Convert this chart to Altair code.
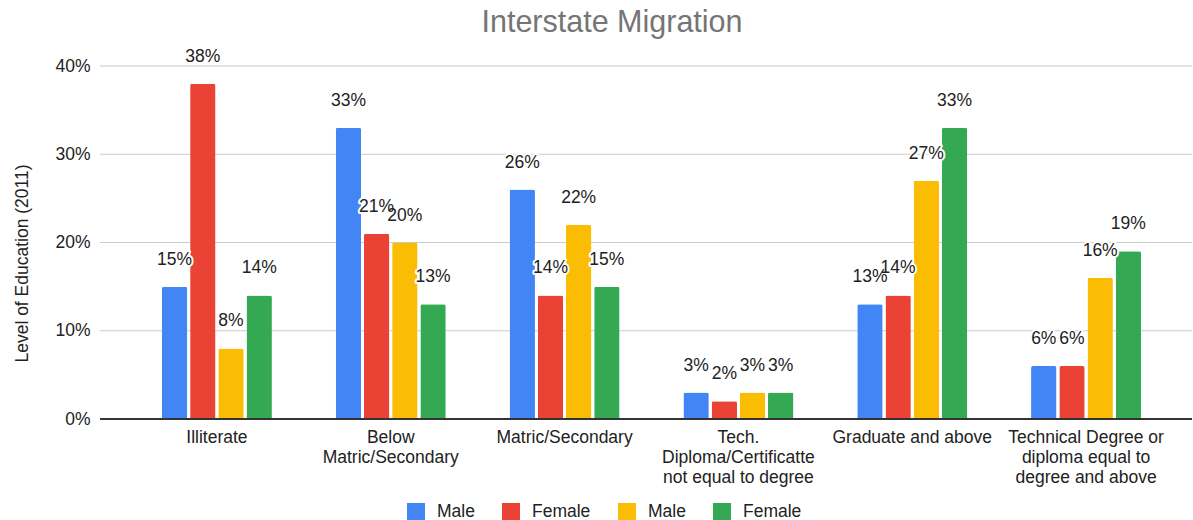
import altair as alt
import pandas as pd

# Education levels ("|" marks a line break in the axis label)
categories = [
    "Illiterate",
    "Below|Matric/Secondary",
    "Matric/Secondary",
    "Tech.|Diploma/Certificatte|not equal to degree",
    "Graduate and above",
    "Technical Degree or|diploma equal to|degree and above",
]

# Four series; the legend repeats Male/Female, so each gets its own key
series_keys = ["male_a", "female_a", "male_b", "female_b"]
series_names = ["Male", "Female", "Male", "Female"]
series_colors = ["#4285F4", "#EA4335", "#FBBC04", "#34A853"]

# Percent of migrants per education level
male_a = [15, 33, 26, 3, 13, 6]
female_a = [38, 21, 14, 2, 14, 6]
male_b = [8, 20, 22, 3, 27, 16]
female_b = [14, 13, 15, 3, 33, 19]

series_values = [male_a, female_a, male_b, female_b]

# y-axis ticks (fractions)
y_ticks = [0, 0.1, 0.2, 0.3, 0.4]

rows = []
for key, values in zip(series_keys, series_values):
    for cat, v in zip(categories, values):
        rows.append({"category": cat, "series": key, "value": v / 100, "label": f"{v}%"})
df = pd.DataFrame(rows)
grid_df = pd.DataFrame({"tick": y_ticks})

FONT = "Liberation Sans"
FS = 17.5
INK = "#222222"
PLOT_W = 1092
PLOT_H = 353
name_map = "{" + ", ".join(f"'{k}': '{n}'" for k, n in zip(series_keys, series_names)) + "}"

y_scale = alt.Scale(domain=[0, 0.4], nice=False)

x_enc = alt.X(
    "category:N",
    sort=categories,
    scale=alt.Scale(range=[30, 1073], paddingInner=0, paddingOuter=0),
    axis=alt.Axis(
        title=None,
        labelAngle=0,
        labelFontSize=FS,
        labelColor=INK,
        labelFont=FONT,
        labelPadding=9,
        labelLineHeight=20,
        labelExpr="split(datum.label, '|')",
        ticks=False,
        domain=False,
        grid=False,
    ),
)
xoff_enc = alt.XOffset(
    "series:N",
    sort=series_keys,
    scale=alt.Scale(range=[30.5, 143.3], paddingInner=0.1, paddingOuter=0.05),
)
y_enc = alt.Y(
    "value:Q",
    scale=y_scale,
    axis=alt.Axis(
        title="Level of Education (2011)",
        titleFont=FONT,
        titleFontSize=FS,
        titleFontWeight="normal",
        titleColor=INK,
        titleAngle=-90,
        titleX=-78,
        titleY=197,
        titleAlign="center",
        titleBaseline="middle",
        values=y_ticks,
        format=".0%",
        labelFontSize=FS,
        labelColor=INK,
        labelFont=FONT,
        labelPadding=10,
        ticks=False,
        domain=False,
        grid=False,
    ),
)

# Horizontal gridlines spanning the full plot width
grid = alt.Chart(grid_df).transform_filter("datum.tick > 0").mark_rule(
    color="#cccccc", strokeWidth=1
).encode(y=alt.Y("tick:Q", scale=y_scale), x=alt.value(0), x2=alt.value(PLOT_W))

baseline = alt.Chart(grid_df).transform_filter("datum.tick == 0").mark_rule(
    color="#333333", strokeWidth=2
).encode(y=alt.Y("tick:Q", scale=y_scale), x=alt.value(0), x2=alt.value(PLOT_W))

base = alt.Chart(df).encode(x=x_enc, xOffset=xoff_enc, y=y_enc)

bars = base.mark_bar(cornerRadiusTopLeft=2, cornerRadiusTopRight=2).encode(
    color=alt.Color(
        "series:N",
        sort=series_keys,
        scale=alt.Scale(domain=series_keys, range=series_colors),
        legend=alt.Legend(
            title=None,
            orient="none",
            direction="horizontal",
            legendX=307,
            legendY=437,
            symbolType="square",
            symbolSize=324,
            symbolStrokeWidth=0,
            labelFontSize=FS,
            labelFont=FONT,
            labelColor=INK,
            labelOffset=12,
            columnPadding=27,
            labelExpr=f"{name_map}[datum.value]",
        ),
    )
)

halo = base.mark_text(
    dy=-27, fontSize=FS, font=FONT, stroke="white", strokeWidth=4, strokeJoin="round",
    fill="white", baseline="middle",
).encode(text="label:N")

labels = base.mark_text(
    dy=-27, fontSize=FS, font=FONT, color=INK, baseline="middle",
).encode(text="label:N")

chart = (
    alt.layer(grid, bars, baseline, halo, labels)
    .properties(
        width=PLOT_W,
        height=PLOT_H,
        title=alt.TitleParams(
            "Interstate Migration",
            fontSize=30.5,
            font=FONT,
            fontWeight="normal",
            color="#757575",
            anchor="middle",
            dx=-34,
            offset=9,
        ),
        autosize=alt.AutoSizeParams(type="none"),
        padding={"left": 100, "top": 66, "right": 1, "bottom": 101},
    )
    .configure_view(stroke=None)
)

chart.save("out.html", embed_options={"renderer": "svg", "actions": False})
